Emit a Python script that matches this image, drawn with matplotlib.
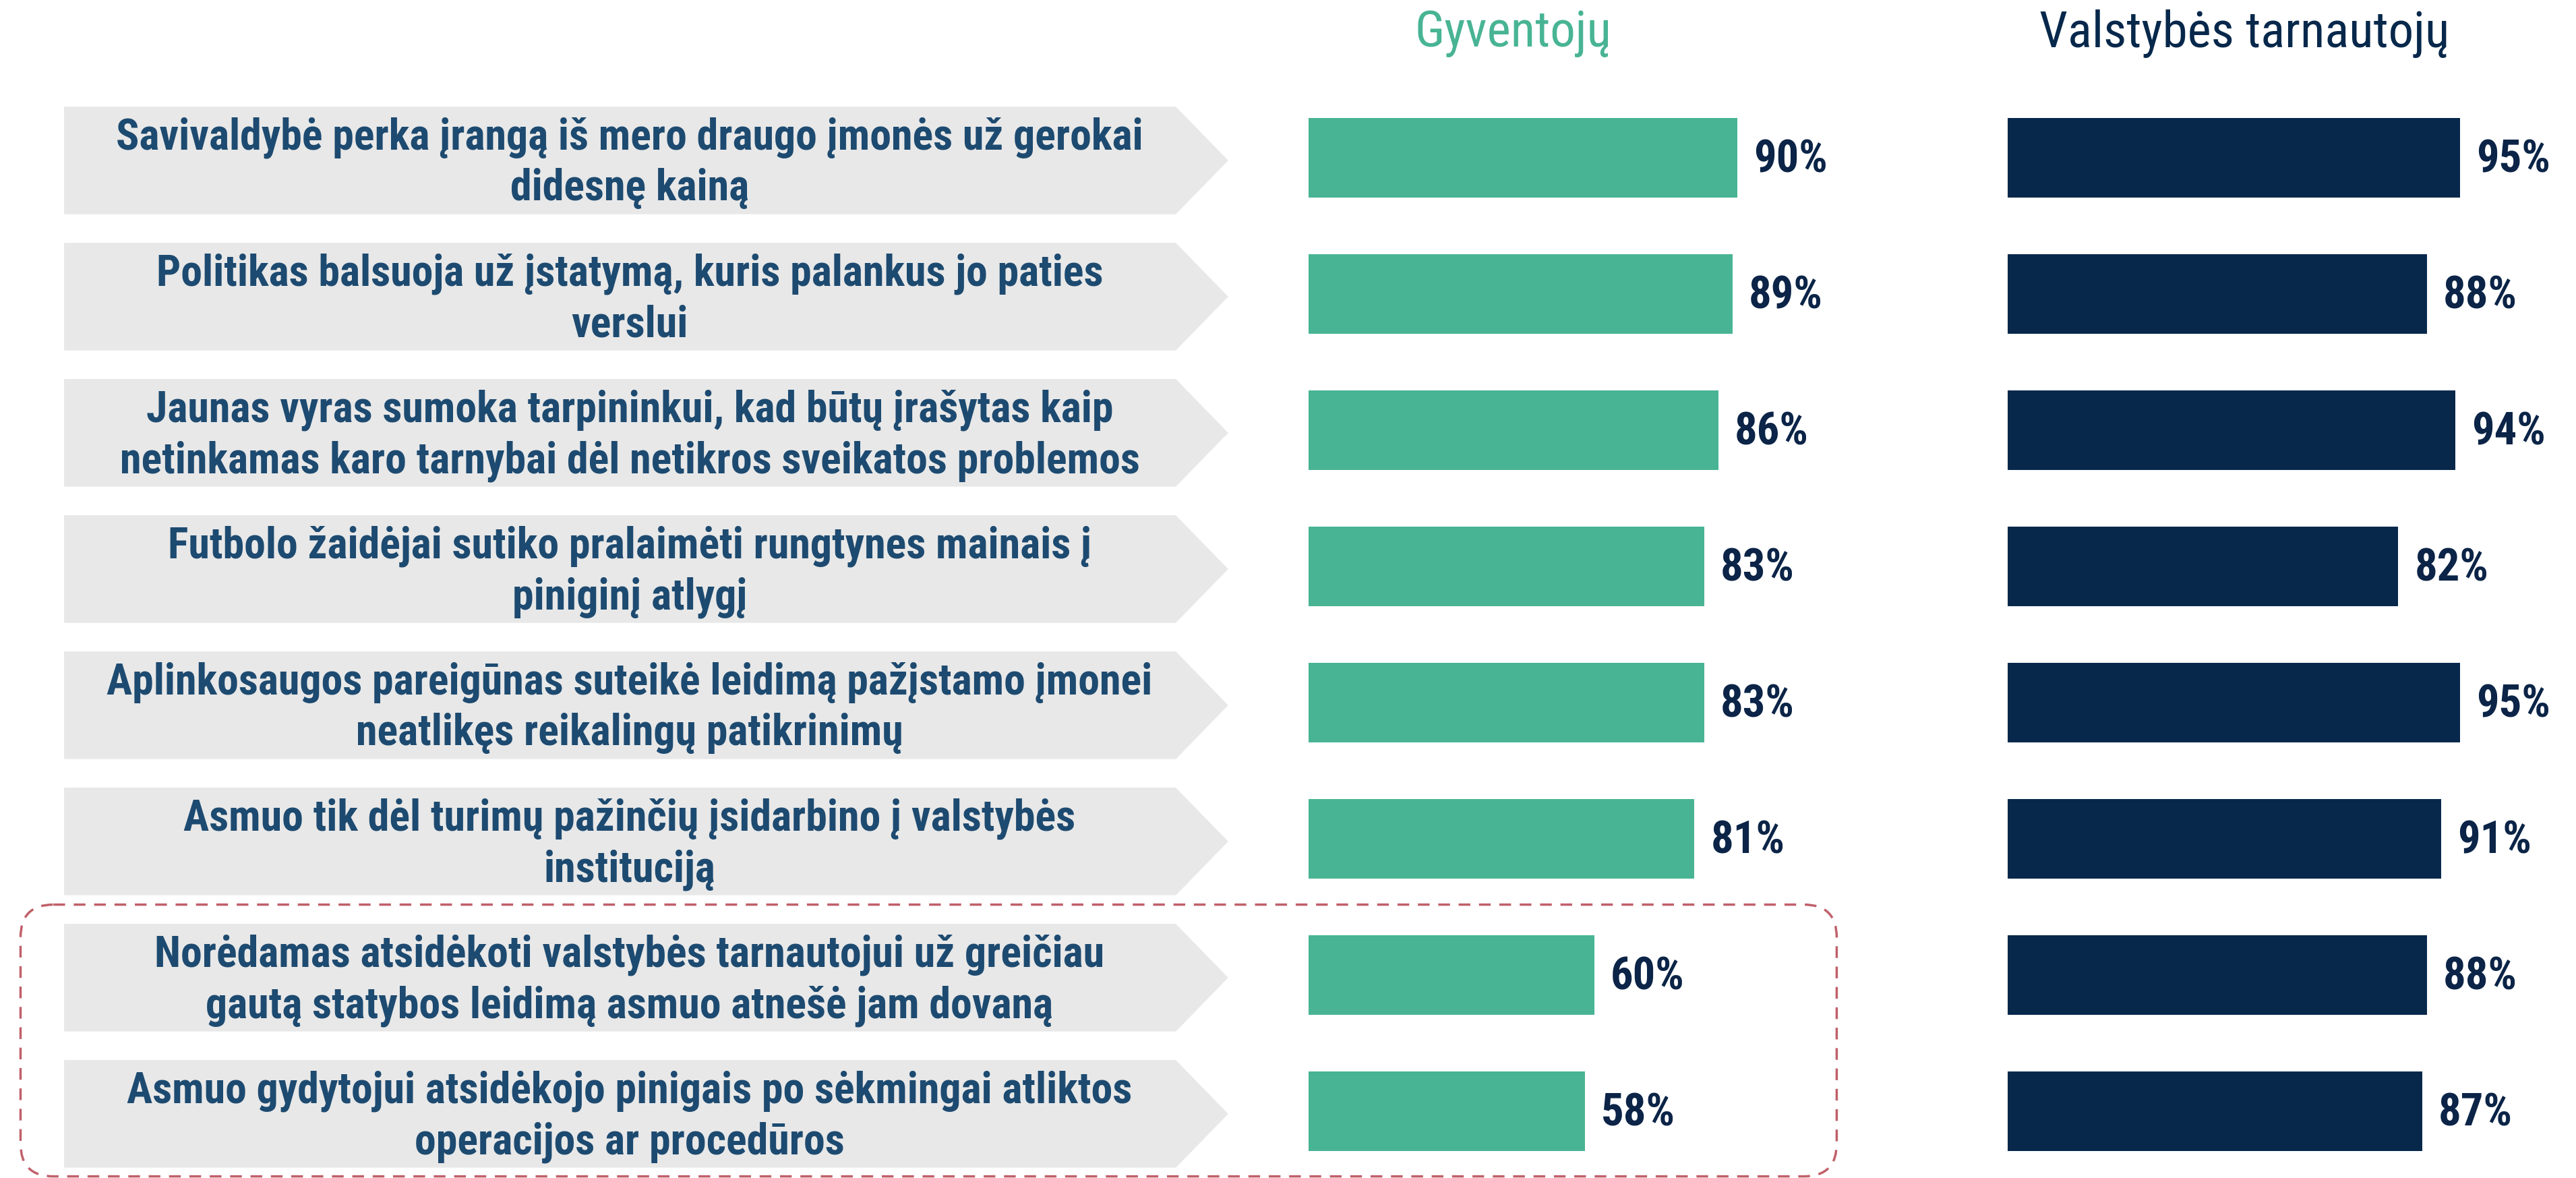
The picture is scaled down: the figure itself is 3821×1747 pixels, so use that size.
import matplotlib.pyplot as plt
from matplotlib.patches import Polygon, FancyBboxPatch
from matplotlib import font_manager
import numpy as np

# Data
labels = [
    'Savivaldybė perka įrangą iš mero draugo įmonės už gerokai\ndidesnę kainą',
    'Politikas balsuoja už įstatymą, kuris palankus jo paties\nverslui',
    'Jaunas vyras sumoka tarpininkui, kad būtų įrašytas kaip\nnetinkamas karo tarnybai dėl netikros sveikatos problemos',
    'Futbolo žaidėjai sutiko pralaimėti rungtynes mainais į\npiniginį atlygį',
    'Aplinkosaugos pareigūnas suteikė leidimą pažįstamo įmonei\nneatlikęs reikalingų patikrinimų',
    'Asmuo tik dėl turimų pažinčių įsidarbino į valstybės\ninstituciją',
    'Norėdamas atsidėkoti valstybės tarnautojui už greičiau\ngautą statybos leidimą asmuo atnešė jam dovaną',
    'Asmuo gydytojui atsidėkojo pinigais po sėkmingai atliktos\noperacijos ar procedūros',
]
gyventoju = [90, 89, 86, 83, 83, 81, 60, 58]
tarnautoju = [95, 88, 94, 82, 95, 91, 88, 87]
titles = ['Gyventojų', 'Valstybės tarnautojų']

green = '#48b494'
navy = '#07284b'
text_blue = '#1d4a70'
val_col = '#0b2447'
box_col = '#e8e8e8'

installed = {f.name for f in font_manager.fontManager.ttflist}
fonts = [f for f in ['Roboto Condensed', 'Liberation Sans Narrow',
                     'DejaVu Sans Condensed', 'Liberation Sans'] if f in installed]
fonts.append('DejaVu Sans')
main = fonts[0]

W, H = 1568.0, 717.0  # layout grid (reference thumbnail pixels)
fig = plt.figure(figsize=(38.21, 17.47), dpi=100)

n = len(labels)
y = np.arange(n)
row0, sp = 96.0, 82.9
y_top = row0 - sp / 2
y_bot = row0 + (n - 0.5) * sp
bottom = 1 - y_bot / H
height = (y_bot - y_top) / H

def make_ax(x0, x1):
    ax = fig.add_axes([x0 / W, bottom, (x1 - x0) / W, height])
    ax.set_ylim(n - 0.5, -0.5)
    ax.axis('off')
    return ax

# font sizes depend on how narrow the font is
scale = {'Roboto Condensed': 1.0, 'Liberation Sans Narrow': 0.92,
         'DejaVu Sans Condensed': 0.8, 'Liberation Sans': 0.8}.get(main, 0.72)
lab_fs = 46 * scale
val_fs = 48 * scale
title_fs = 54 * scale

# label arrows
ax_lab = make_ax(38.8, 747.6)
ax_lab.set_xlim(0, 1)
bh = 0.79
for i, lab in enumerate(labels):
    yc = i + 0.02
    poly = Polygon([(0, yc - bh / 2), (0.955, yc - bh / 2), (1.0, yc),
                    (0.955, yc + bh / 2), (0, yc + bh / 2)],
                   closed=True, facecolor=box_col, edgecolor='none')
    ax_lab.add_patch(poly)
    ax_lab.text(0.486, yc + 0.02, lab, ha='center', va='center', fontsize=lab_fs,
                fontweight='bold', color=text_blue, linespacing=1.3,
                family=fonts)

# bars
per = 2.9  # thumbnail px per percent
for x0, vals, col in [(796.5, gyventoju, green), (1222.0, tarnautoju, navy)]:
    ax = make_ax(x0, x0 + 100 * per)
    ax.set_xlim(0, 100)
    ax.barh(y, vals, height=0.585, color=col)
    for yi, v in zip(y, vals):
        ax.text(v + 3.4, yi + 0.02, f'{v}%', ha='left', va='center', fontsize=val_fs,
                fontweight='bold', color=val_col, family=fonts)

fig.text(921 / W, 1 - 20.5 / H, titles[0], ha='center', va='center',
         fontsize=title_fs, color=green, family=fonts)
fig.text(1366 / W, 1 - 20.5 / H, titles[1], ha='center', va='center',
         fontsize=title_fs, color=navy, family=fonts)

# dashed highlight box around last two rows
ax_bg = fig.add_axes([0, 0, 1, 1], zorder=-1)
ax_bg.set_xlim(0, W)
ax_bg.set_ylim(H, 0)
ax_bg.axis('off')
box = FancyBboxPatch((12.5, 550.6), 1118 - 12.5, 716.0 - 550.6,
                     boxstyle='round,pad=0,rounding_size=20',
                     facecolor='none', edgecolor='#c0606a', linewidth=2.5,
                     linestyle=(0, (5, 3.7)))
ax_bg.add_patch(box)

fig.savefig('out.png', dpi=100)
